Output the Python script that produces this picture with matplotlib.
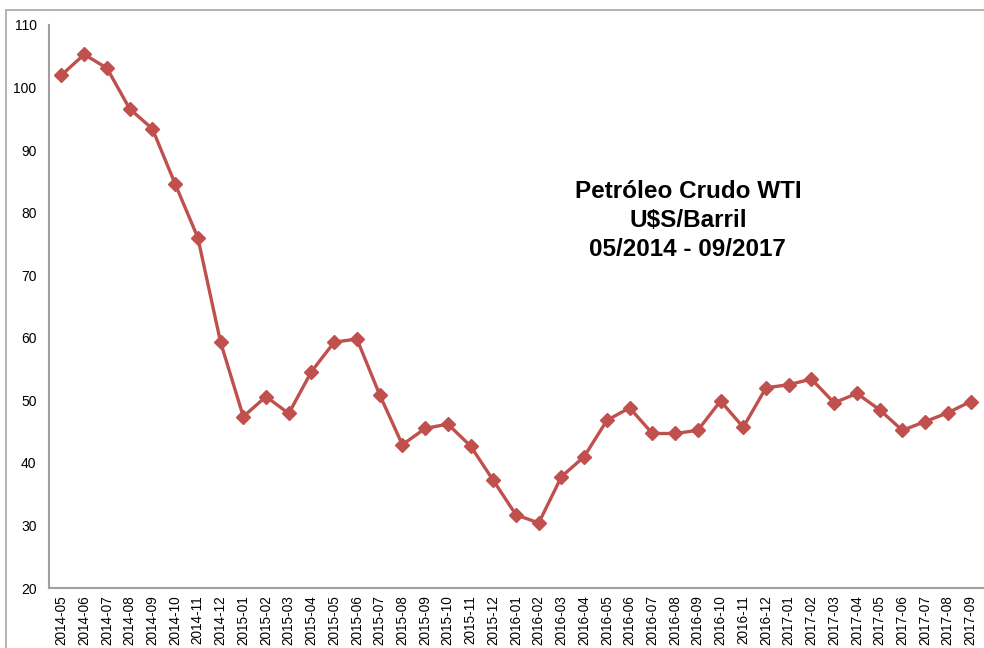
import matplotlib
matplotlib.use("Agg")
import matplotlib.pyplot as plt
from matplotlib.patches import Rectangle

months = ["2014-05", "2014-06", "2014-07", "2014-08", "2014-09", "2014-10", "2014-11", "2014-12",
          "2015-01", "2015-02", "2015-03", "2015-04", "2015-05", "2015-06", "2015-07", "2015-08",
          "2015-09", "2015-10", "2015-11", "2015-12", "2016-01", "2016-02", "2016-03", "2016-04",
          "2016-05", "2016-06", "2016-07", "2016-08", "2016-09", "2016-10", "2016-11", "2016-12",
          "2017-01", "2017-02", "2017-03", "2017-04", "2017-05", "2017-06", "2017-07", "2017-08",
          "2017-09"]
wti = [102.0, 105.3, 103.1, 96.6, 93.4, 84.6, 76.0, 59.3,
       47.4, 50.6, 47.9, 54.6, 59.3, 59.8, 50.9, 42.9,
       45.5, 46.2, 42.7, 37.2, 31.7, 30.4, 37.8, 41.0,
       46.8, 48.8, 44.7, 44.7, 45.2, 49.9, 45.7, 52.0,
       52.5, 53.4, 49.6, 51.1, 48.5, 45.2, 46.6, 48.0,
       49.8]
yticks = [20, 30, 40, 50, 60, 70, 80, 90, 100, 110]

plt.rcParams["font.family"] = ["Liberation Sans", "DejaVu Sans"]

fig = plt.figure(figsize=(9.84, 6.48), dpi=100)
# outer chart frame (cut at right/bottom like the original)
fig.patches.append(Rectangle((6 / 984, -0.1), 1.2, 1.1 - 10 / 648,
                             transform=fig.transFigure, fill=False,
                             edgecolor="#a6a6a6", linewidth=1.2))

ax = fig.add_axes([49 / 984, 1 - 588 / 648, (983 - 49) / 984, (588 - 25) / 648])
x = range(len(months))
ax.plot(x, wti, color="#c0504d", linewidth=2.4, marker="D", markersize=7,
        markeredgecolor="#c0504d", markerfacecolor="#c0504d")

ax.set_ylim(20, 110)
ax.set_xlim(-0.55, len(months) - 0.45)
ax.set_yticks(yticks)
ax.set_xticks(list(x))
ax.set_xticklabels(months, rotation=90, fontsize=9.8)
ax.tick_params(axis="y", length=0, pad=9, labelsize=10)
ax.tick_params(axis="x", length=0, pad=5)

for s in ["top", "right"]:
    ax.spines[s].set_visible(False)
for s in ["left", "bottom"]:
    ax.spines[s].set_color("#a0a0a0")
    ax.spines[s].set_linewidth(1.5)

fig.text(0.699, 0.66, "Petróleo Crudo WTI\nU$S/Barril\n05/2014 - 09/2017",
         ha="center", va="center", fontsize=17.5, fontweight="bold", linespacing=1.33)

fig.savefig("out.png", dpi=100)
